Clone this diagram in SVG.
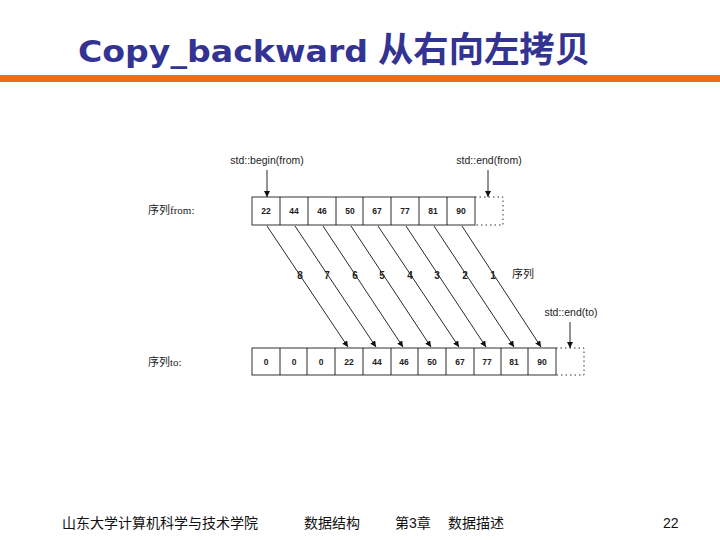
<svg xmlns="http://www.w3.org/2000/svg" width="720" height="540" viewBox="0 0 720 540">
<defs>
<style>
.title{font-family:"DejaVu Sans","Noto Sans CJK SC",sans-serif;font-weight:bold;font-size:31px;fill:#333393}
.cjk{font-family:"Noto Sans CJK SC",sans-serif;font-weight:bold;font-size:35px;fill:#333393}
.lbl{font-family:"Liberation Sans","Noto Sans CJK SC",sans-serif;font-size:10.5px;fill:#222}
.seq{font-family:"Liberation Serif","Noto Sans CJK SC",serif;font-size:11px;fill:#222}
.num{font-family:"Liberation Sans",sans-serif;font-size:8.5px;font-weight:bold;fill:#222;text-anchor:middle}
.step{font-family:"Liberation Sans",sans-serif;font-size:10px;font-weight:bold;fill:#222;text-anchor:middle}
.cell{fill:#fff;stroke:#333;stroke-width:1}
.dot{fill:none;stroke:#333;stroke-width:1;stroke-dasharray:1.5 3}
.ln{stroke:#111;stroke-width:0.9;fill:none}
.foot{font-family:"Liberation Sans","Noto Sans CJK SC",sans-serif;font-size:14px;fill:#111}
</style>
<marker id="ah" viewBox="0 0 10 10" refX="10" refY="5" markerWidth="6" markerHeight="6" orient="auto" markerUnits="userSpaceOnUse">
<path d="M0,0 L10,5 L0,10 z" fill="#111"/>
</marker>
</defs>
<rect width="720" height="540" fill="#fff"/>
<g id="title">
<text class="title" x="78" y="62" textLength="290" lengthAdjust="spacingAndGlyphs">Copy_backward</text>
<text class="cjk" x="378" y="62" textLength="212" lengthAdjust="spacingAndGlyphs">从右向左拷贝</text>
</g>
<rect x="0" y="75" width="720" height="7" fill="#F26C12"/>

<g id="from-array">
<text class="seq" x="148" y="214">序列from:</text>
<rect class="cell" x="252" y="197" width="223" height="28"/>
<path class="ln" d="M280,197V225M308,197V225M336,197V225M363,197V225M391,197V225M419,197V225M447,197V225"/>
<path class="dot" d="M475,197H503V225H475"/>
<text class="num" x="266" y="214">22</text>
<text class="num" x="294" y="214">44</text>
<text class="num" x="322" y="214">46</text>
<text class="num" x="350" y="214">50</text>
<text class="num" x="377" y="214">67</text>
<text class="num" x="405" y="214">77</text>
<text class="num" x="433" y="214">81</text>
<text class="num" x="461" y="214">90</text>
</g>

<g id="to-array">
<text class="seq" x="148" y="366">序列to:</text>
<rect class="cell" x="252" y="348" width="304" height="27"/>
<path class="ln" d="M280,348V375M307,348V375M335,348V375M363,348V375M391,348V375M418,348V375M446,348V375M474,348V375M501,348V375M528,348V375"/>
<path class="dot" d="M556,348H584V375H556"/>
<text class="num" x="266" y="365">0</text>
<text class="num" x="294" y="365">0</text>
<text class="num" x="321" y="365">0</text>
<text class="num" x="349" y="365">22</text>
<text class="num" x="377" y="365">44</text>
<text class="num" x="404" y="365">46</text>
<text class="num" x="432" y="365">50</text>
<text class="num" x="460" y="365">67</text>
<text class="num" x="487" y="365">77</text>
<text class="num" x="514" y="365">81</text>
<text class="num" x="542" y="365">90</text>
</g>

<g id="begin-from">
<text class="lbl" x="267" y="164" text-anchor="middle">std::begin(from)</text>
</g>
<g id="end-from">
<text class="lbl" x="489" y="164" text-anchor="middle">std::end(from)</text>
</g>
<g id="end-to">
<text class="lbl" x="571" y="316" text-anchor="middle">std::end(to)</text>
</g>
<g id="seq-label">
<text class="seq" x="512" y="278">序列</text>
</g>

<g id="connectors">
<line class="ln" x1="267" y1="170" x2="267" y2="197" marker-end="url(#ah)"/>
<line class="ln" x1="488" y1="170" x2="488" y2="197" marker-end="url(#ah)"/>
<line class="ln" x1="570" y1="322" x2="570" y2="348" marker-end="url(#ah)"/>
<line class="ln" x1="267" y1="226" x2="348" y2="347" marker-end="url(#ah)"/>
<line class="ln" x1="295" y1="226" x2="376" y2="347" marker-end="url(#ah)"/>
<line class="ln" x1="323" y1="226" x2="403" y2="347" marker-end="url(#ah)"/>
<line class="ln" x1="351" y1="226" x2="431" y2="347" marker-end="url(#ah)"/>
<line class="ln" x1="378" y1="226" x2="459" y2="347" marker-end="url(#ah)"/>
<line class="ln" x1="406" y1="226" x2="486" y2="347" marker-end="url(#ah)"/>
<line class="ln" x1="434" y1="226" x2="514" y2="347" marker-end="url(#ah)"/>
<line class="ln" x1="462" y1="226" x2="541" y2="347" marker-end="url(#ah)"/>
</g>

<g id="step-numbers">
<text class="step" x="300" y="279">8</text>
<text class="step" x="327" y="279">7</text>
<text class="step" x="355" y="279">6</text>
<text class="step" x="382" y="279">5</text>
<text class="step" x="410" y="279">4</text>
<text class="step" x="437" y="279">3</text>
<text class="step" x="465" y="279">2</text>
<text class="step" x="493" y="279">1</text>
</g>

<g id="footer">
<text class="foot" x="62" y="528">山东大学计算机科学与技术学院</text>
<text class="foot" x="304" y="528">数据结构</text>
<text class="foot" x="395" y="528">第3章</text>
<text class="foot" x="448" y="528">数据描述</text>
<text class="foot" x="663" y="528">22</text>
</g>
</svg>
